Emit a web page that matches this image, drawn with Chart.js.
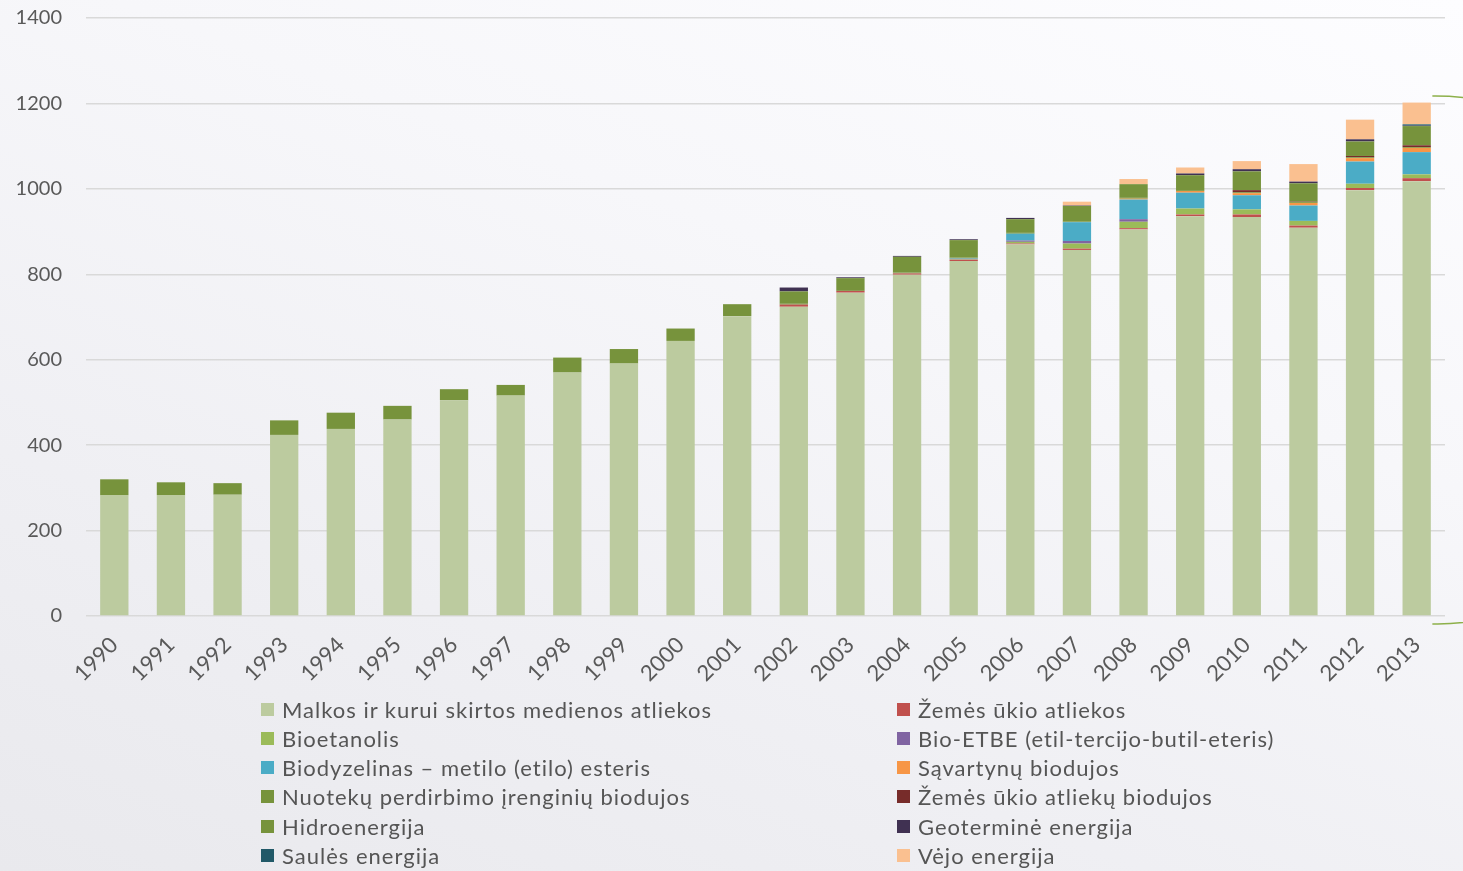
<!DOCTYPE html>
<html>
<head>
<meta charset="utf-8">
<script src="https://cdn.jsdelivr.net/npm/chart.js@4/dist/chart.umd.min.js"></script>
<style>
  html, body { margin: 0; padding: 0; }
  body {
    width: 1463px; height: 871px; overflow: hidden; position: relative;
    background: linear-gradient(200deg, #fdfdff 0%, #f7f7fa 35%, #efeff3 70%, #e9e9ed 100%);
    font-family: Lato, "Noto Sans", sans-serif;
  }
  #wrap { position: absolute; left: 0; top: 0; width: 1463px; height: 700px; }
  #legend { position: absolute; left: 0; top: 0; width: 1463px; height: 871px; pointer-events: none; }
  .item { position: absolute; display: flex; align-items: center; color: #555555; font-size: 22px; letter-spacing: 1.0px; white-space: nowrap; }
  .sw { width: 13px; height: 13px; margin-right: 8px; flex: none; }
</style>
</head>
<body>
<div id="wrap"><canvas id="c" width="1463" height="700"></canvas></div>
<div id="legend"></div>
<script>
const years = ['1990','1991','1992','1993','1994','1995','1996','1997','1998','1999','2000','2001','2002','2003','2004','2005','2006','2007','2008','2009','2010','2011','2012','2013'];
const yTicks = [0,200,400,600,800,1000,1200,1400];

const seriesNames = [
  'Malkos ir kurui skirtos medienos atliekos',
  'Žemės ūkio atliekos',
  'Bioetanolis',
  'Bio-ETBE (etil-tercijo-butil-eteris)',
  'Biodyzelinas – metilo (etilo) esteris',
  'Sąvartynų biodujos',
  'Nuotekų perdirbimo įrenginių biodujos',
  'Žemės ūkio atliekų biodujos',
  'Hidroenergija',
  'Geoterminė energija',
  'Saulės energija',
  'Vėjo energija'
];
const seriesColors = ['#bccb9f','#c0504d','#9bbb59','#8064a2','#4bacc6','#f79646','#77933c','#772c2a','#77933c','#403152','#215968','#fac090'];

const malkos      = [283,283,284,424,438,460,505,516,570,591,644,702,724,757,799,831,870,857,905,936,934,909,997,1018];
const zemesUkio   = [0,0,0,0,0,0,0,0,0,0,0,0,5,4,3,3,2,3,3,4,6,5,5,7];
const bioetanolis = [0,0,0,0,0,0,0,0,0,0,0,0,0,0,0,1,4,12,15,14,12,11,10,9];
const bioEtbe     = [0,0,0,0,0,0,0,0,0,0,0,0,0,0,0,1,3,6,6,0,0,0,0,0];
const biodyzelinas= [0,0,0,0,0,0,0,0,0,0,0,0,0,0,0,1,16,44,46,37,33,36,52,52];
const savartynu   = [0,0,0,0,0,0,0,0,0,0,0,0,0,0,0,0,0,0,2,4,5,6,8,10];
const nuoteku     = [0,0,0,0,0,0,0,0,0,0,0,0,2,2,2,2,2,2,2,2,2,2,2,2];
const zemesBiod   = [0,0,0,0,0,0,0,0,0,0,0,0,0,0,0,0,0,0,0,0,5,1,3,4];
const hidro       = [37,30,27,34,38,32,26,25,35,34,29,28,29,28,37,41,32,36,32,35,44,43,34,45];
const geotermine  = [0,0,0,0,0,0,0,0,0,0,0,0,9,2,2,2,3,1,0,4,5,4,5,1];
const saules      = [0,0,0,0,0,0,0,0,0,0,0,0,0,0,0,0,0,0,0,0,0,0,0,3];
const vejo        = [0,0,0,0,0,0,0,0,0,0,0,0,0,0,0,0,0,9,12,14,19,41,46,51];

const seriesValues = [malkos, zemesUkio, bioetanolis, bioEtbe, biodyzelinas, savartynu, nuoteku, zemesBiod, hidro, geotermine, saules, vejo];

const datasets = seriesNames.map((n, i) => ({
  label: n,
  data: seriesValues[i],
  backgroundColor: seriesColors[i],
  borderWidth: 0,
  barPercentage: 0.5,
  categoryPercentage: 1.0
}));

const deco = {
  id: 'deco',
  afterDraw(chart) {
    const ctx = chart.ctx;
    ctx.save();
    ctx.strokeStyle = '#8db04a';
    ctx.lineWidth = 1.5;
    ctx.beginPath();
    ctx.arc(1435, 360, 264, -Math.PI / 2 - 0.01, Math.PI / 2 + 0.01);
    ctx.stroke();
    ctx.restore();
  }
};

const chart = new Chart(document.getElementById('c'), {
  type: 'bar',
  data: { labels: years, datasets },
  plugins: [deco],
  options: {
    responsive: false,
    animation: false,
    layout: { padding: { left: 16, right: 18, top: 18, bottom: 0 } },
    plugins: { legend: { display: false }, tooltip: { enabled: false } },
    scales: {
      x: {
        stacked: true,
        grid: { display: false },
        border: { display: false },
        ticks: { color: '#595959', font: { family: 'Lato', size: 22 }, minRotation: 45, maxRotation: 45, padding: 8 },
        afterFit(axis) { axis.height = 84; axis.paddingLeft = 0; axis.paddingRight = 0; }
      },
      y: {
        stacked: true,
        min: 0, max: 1400,
        afterBuildTicks(axis) { axis.ticks = yTicks.map(v => ({ value: v })); },
        afterFit(axis) { axis.width = 70; axis.paddingTop = 0; axis.paddingBottom = 0; },
        grid: { color: '#d9d9d9', lineWidth: 1.5, drawTicks: false },
        border: { display: false },
        ticks: { color: '#595959', font: { family: 'Lato', size: 20 }, padding: 24, callback: v => String(v) }
      }
    }
  }
});

// HTML legend built from the chart's datasets (two columns, row-wise order)
const legend = document.getElementById('legend');
chart.data.datasets.forEach((ds, i) => {
  const col = i % 2, row = Math.floor(i / 2);
  const el = document.createElement('div');
  el.className = 'item';
  el.style.left = (col === 0 ? 261 : 897) + 'px';
  el.style.top = (709 + row * 29.3 - 14) + 'px';
  el.style.height = '28px';
  const sw = document.createElement('span');
  sw.className = 'sw';
  sw.style.background = ds.backgroundColor;
  const tx = document.createElement('span');
  tx.textContent = ds.label;
  el.appendChild(sw); el.appendChild(tx);
  legend.appendChild(el);
});
</script>
</body>
</html>
